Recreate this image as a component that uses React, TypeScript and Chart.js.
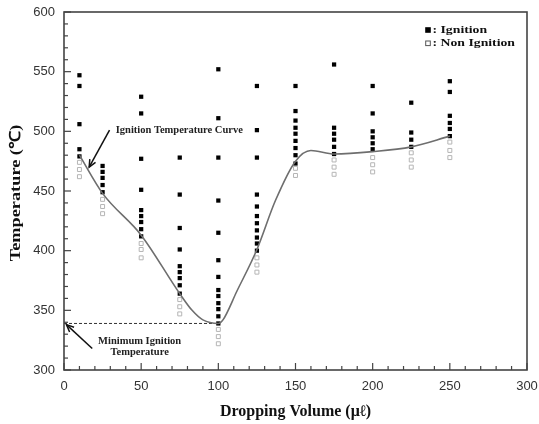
import React, { useEffect, useRef } from "react";
import { Chart, registerables } from "chart.js";

Chart.register(...registerables);

// Dropping volumes (µl) of each test column
const volumes = [10, 25, 50, 75, 100, 125, 150, 175, 200, 225, 250];

// Temperatures (°C) at which ignition occurred, per column
const ignitionTemps = [
  [547, 538, 506, 485, 479],
  [471, 466, 461, 455, 449],
  [529, 515, 477, 451, 434, 429, 424, 418, 412],
  [478, 447, 419, 401, 387, 382, 377, 371, 364],
  [552, 511, 478, 442, 415, 392, 378, 367, 362, 356, 351, 345, 339],
  [538, 501, 478, 447, 437, 429, 423, 417, 411, 406, 400],
  [538, 517, 509, 503, 498, 492, 486, 480, 473],
  [556, 503, 498, 493, 487, 481],
  [538, 515, 500, 495, 490, 485],
  [524, 499, 493, 487],
  [542, 533, 513, 507, 502, 496],
];

// Temperatures (°C) without ignition, per column
const nonIgnitionTemps = [
  [474, 468, 462],
  [443, 437, 431],
  [406, 401, 394],
  [359, 353, 347],
  [334, 328, 322],
  [394, 388, 382],
  [469, 463],
  [476, 470, 464],
  [478, 472, 466],
  [482, 476, 470],
  [491, 484, 478],
];

// Ignition temperature curve
const curveVolumes = [10, 25, 50, 75, 83, 90, 100, 103, 112, 125, 137, 150, 160, 175, 200, 225, 250];
const curveTemps = [480, 448, 413, 364, 350, 342, 339, 342, 366, 401, 442, 475, 484, 481, 483, 487, 496];

// Minimum ignition temperature line
const minLineVolumes = [0, 100];
const minLineTemps = [339, 339];

const xTicks = [0, 50, 100, 150, 200, 250, 300];
const yTicks = [300, 350, 400, 450, 500, 550, 600];

const legendLabels = [": Ignition", ": Non Ignition"];
const curveLabel = "Ignition Temperature Curve";
const minLabel = ["Minimum Ignition", "Temperature"];
const xTitle = "Dropping Volume (\u03bc\u2113)";
const yTitle = "Temperature (\u2103)";

const SERIF = "'Liberation Serif', 'Times New Roman', serif";
const SANS = "'Liberation Sans', Arial, sans-serif";

function flatten(temps: number[][]) {
  const pts: { x: number; y: number }[] = [];
  temps.forEach((col, i) => col.forEach((t) => pts.push({ x: volumes[i], y: t })));
  return pts;
}

function arrow(ctx: CanvasRenderingContext2D, x1: number, y1: number, x2: number, y2: number) {
  ctx.beginPath();
  ctx.moveTo(x1, y1);
  ctx.lineTo(x2, y2);
  ctx.stroke();
  const a = Math.atan2(y2 - y1, x2 - x1);
  const L = 8;
  const s = 0.42;
  ctx.beginPath();
  ctx.moveTo(x2 - L * Math.cos(a - s), y2 - L * Math.sin(a - s));
  ctx.lineTo(x2, y2);
  ctx.lineTo(x2 - L * Math.cos(a + s), y2 - L * Math.sin(a + s));
  ctx.stroke();
}

const decorPlugin = {
  id: "decor",
  afterDraw(chart: any) {
    const ctx: CanvasRenderingContext2D = chart.ctx;
    const { left, right, top, bottom } = chart.chartArea;
    const xs = chart.scales.x;
    const ys = chart.scales.y;
    ctx.save();
    // frame
    ctx.strokeStyle = "#444";
    ctx.lineWidth = 1.6;
    ctx.strokeRect(left, top, right - left, bottom - top);
    // inward ticks
    ctx.lineWidth = 1.2;
    for (let v = 0; v <= 300; v += 10) {
      const px = xs.getPixelForValue(v);
      const len = v % 50 === 0 ? 7 : 4;
      ctx.beginPath();
      ctx.moveTo(px, bottom);
      ctx.lineTo(px, bottom - len);
      ctx.stroke();
    }
    for (let v = 300; v <= 600; v += 10) {
      const py = ys.getPixelForValue(v);
      const len = v % 50 === 0 ? 7 : 4;
      ctx.beginPath();
      ctx.moveTo(left, py);
      ctx.lineTo(left + len, py);
      ctx.stroke();
    }
    // y axis title (stretched like the original)
    ctx.save();
    ctx.translate(16, (top + bottom) / 2 + 2);
    ctx.rotate(-Math.PI / 2);
    ctx.scale(1.22, 1);
    ctx.fillStyle = "#111";
    ctx.font = "bold 15px " + SERIF;
    ctx.textAlign = "center";
    ctx.textBaseline = "middle";
    ctx.fillText(yTitle, 0, 0);
    ctx.restore();
    // annotations
    ctx.strokeStyle = "#111";
    ctx.lineWidth = 1.5;
    arrow(ctx, xs.getPixelForValue(29.5), ys.getPixelForValue(501), xs.getPixelForValue(16.3), ys.getPixelForValue(470));
    arrow(ctx, xs.getPixelForValue(18.3), ys.getPixelForValue(318), xs.getPixelForValue(1.6), ys.getPixelForValue(338));
    ctx.fillStyle = "#222";
    ctx.font = "bold 10.5px " + SERIF;
    ctx.textBaseline = "middle";
    ctx.textAlign = "left";
    ctx.fillText(curveLabel, xs.getPixelForValue(33.5), ys.getPixelForValue(501));
    ctx.textAlign = "center";
    ctx.fillText(minLabel[0], xs.getPixelForValue(49), ys.getPixelForValue(324.4));
    ctx.fillText(minLabel[1], xs.getPixelForValue(49), ys.getPixelForValue(315));
    // legend
    const lx = right - 99;
    const ly1 = top + 18;
    const ly2 = top + 31.3;
    const sz = 5.6;
    ctx.fillStyle = "#000";
    ctx.fillRect(lx - sz / 2, ly1 - sz / 2, sz, sz);
    ctx.strokeStyle = "#555";
    ctx.lineWidth = 1;
    ctx.fillStyle = "#fff";
    ctx.fillRect(lx - sz / 2, ly2 - sz / 2, sz, sz);
    ctx.strokeRect(lx - sz / 2 + 0.5, ly2 - sz / 2 + 0.5, sz - 1, sz - 1);
    ctx.fillStyle = "#111";
    ctx.font = "bold 11px " + SERIF;
    ctx.textAlign = "left";
    [ly1, ly2].forEach((ly, i) => {
      ctx.save();
      ctx.translate(lx + 4.5, ly);
      ctx.scale(1.25, 1);
      ctx.fillText(legendLabels[i], 0, 0);
      ctx.restore();
    });
    ctx.restore();
  },
};

export default function App() {
  const ref = useRef<HTMLCanvasElement | null>(null);
  useEffect(() => {
    if (!ref.current) return;
    const chart = new Chart(ref.current, {
      type: "scatter",
      data: {
        datasets: [
          {
            label: "Ignition Temperature Curve",
            data: curveVolumes.map((v, i) => ({ x: v, y: curveTemps[i] })),
            showLine: true,
            borderColor: "#6e6e6e",
            borderWidth: 1.6,
            pointRadius: 0,
            cubicInterpolationMode: "monotone",
          } as any,
          {
            label: "Minimum Ignition Temperature",
            data: minLineVolumes.map((v, i) => ({ x: v, y: minLineTemps[i] })),
            showLine: true,
            borderColor: "#333",
            borderWidth: 1,
            borderDash: [3, 2],
            pointRadius: 0,
          } as any,
          {
            label: "Non Ignition",
            data: flatten(nonIgnitionTemps),
            pointStyle: "rect",
            pointRadius: 2.8,
            backgroundColor: "#fff",
            borderColor: "#b5b5b5",
            borderWidth: 1,
          },
          {
            label: "Ignition",
            data: flatten(ignitionTemps),
            pointStyle: "rect",
            pointRadius: 3.0,
            backgroundColor: "#000",
            borderColor: "#000",
            borderWidth: 0,
          },
        ],
      },
      options: {
        animation: false,
        responsive: true,
        maintainAspectRatio: false,
        layout: { padding: { top: 12, right: 12, left: 0, bottom: 0 } },
        plugins: { legend: { display: false }, tooltip: { enabled: false } },
        scales: {
          x: {
            type: "linear",
            min: 0,
            max: 300,
            afterFit: (s: any) => {
              s.height = 54;
              s.paddingLeft = 0;
              s.paddingRight = 0;
            },
            afterBuildTicks: (s: any) => { s.ticks = xTicks.map((v) => ({ value: v })); },
            grid: { display: false, drawTicks: false },
            border: { display: false },
            ticks: { padding: 9, color: "#333", font: { family: SANS, size: 13 } },
            title: {
              display: true,
              text: xTitle,
              color: "#111",
              font: { family: SERIF, size: 16, weight: "bold" },
              padding: { top: 0, bottom: 3 },
            },
          },
          y: {
            type: "linear",
            min: 300,
            max: 600,
            afterFit: (s: any) => {
              s.width = 64;
              s.paddingTop = 0;
              s.paddingBottom = 0;
            },
            afterBuildTicks: (s: any) => { s.ticks = yTicks.map((v) => ({ value: v })); },
            grid: { display: false, drawTicks: false },
            border: { display: false },
            ticks: { padding: 9, color: "#333", font: { family: SANS, size: 13 } },
            title: { display: false },
          },
        },
      } as any,
      plugins: [decorPlugin],
    });
    return () => chart.destroy();
  }, []);
  return (
    <div style={{ position: "fixed", left: 0, top: 0, width: 539, height: 424, background: "#fff" }}>
      <canvas ref={ref} />
    </div>
  );
}
